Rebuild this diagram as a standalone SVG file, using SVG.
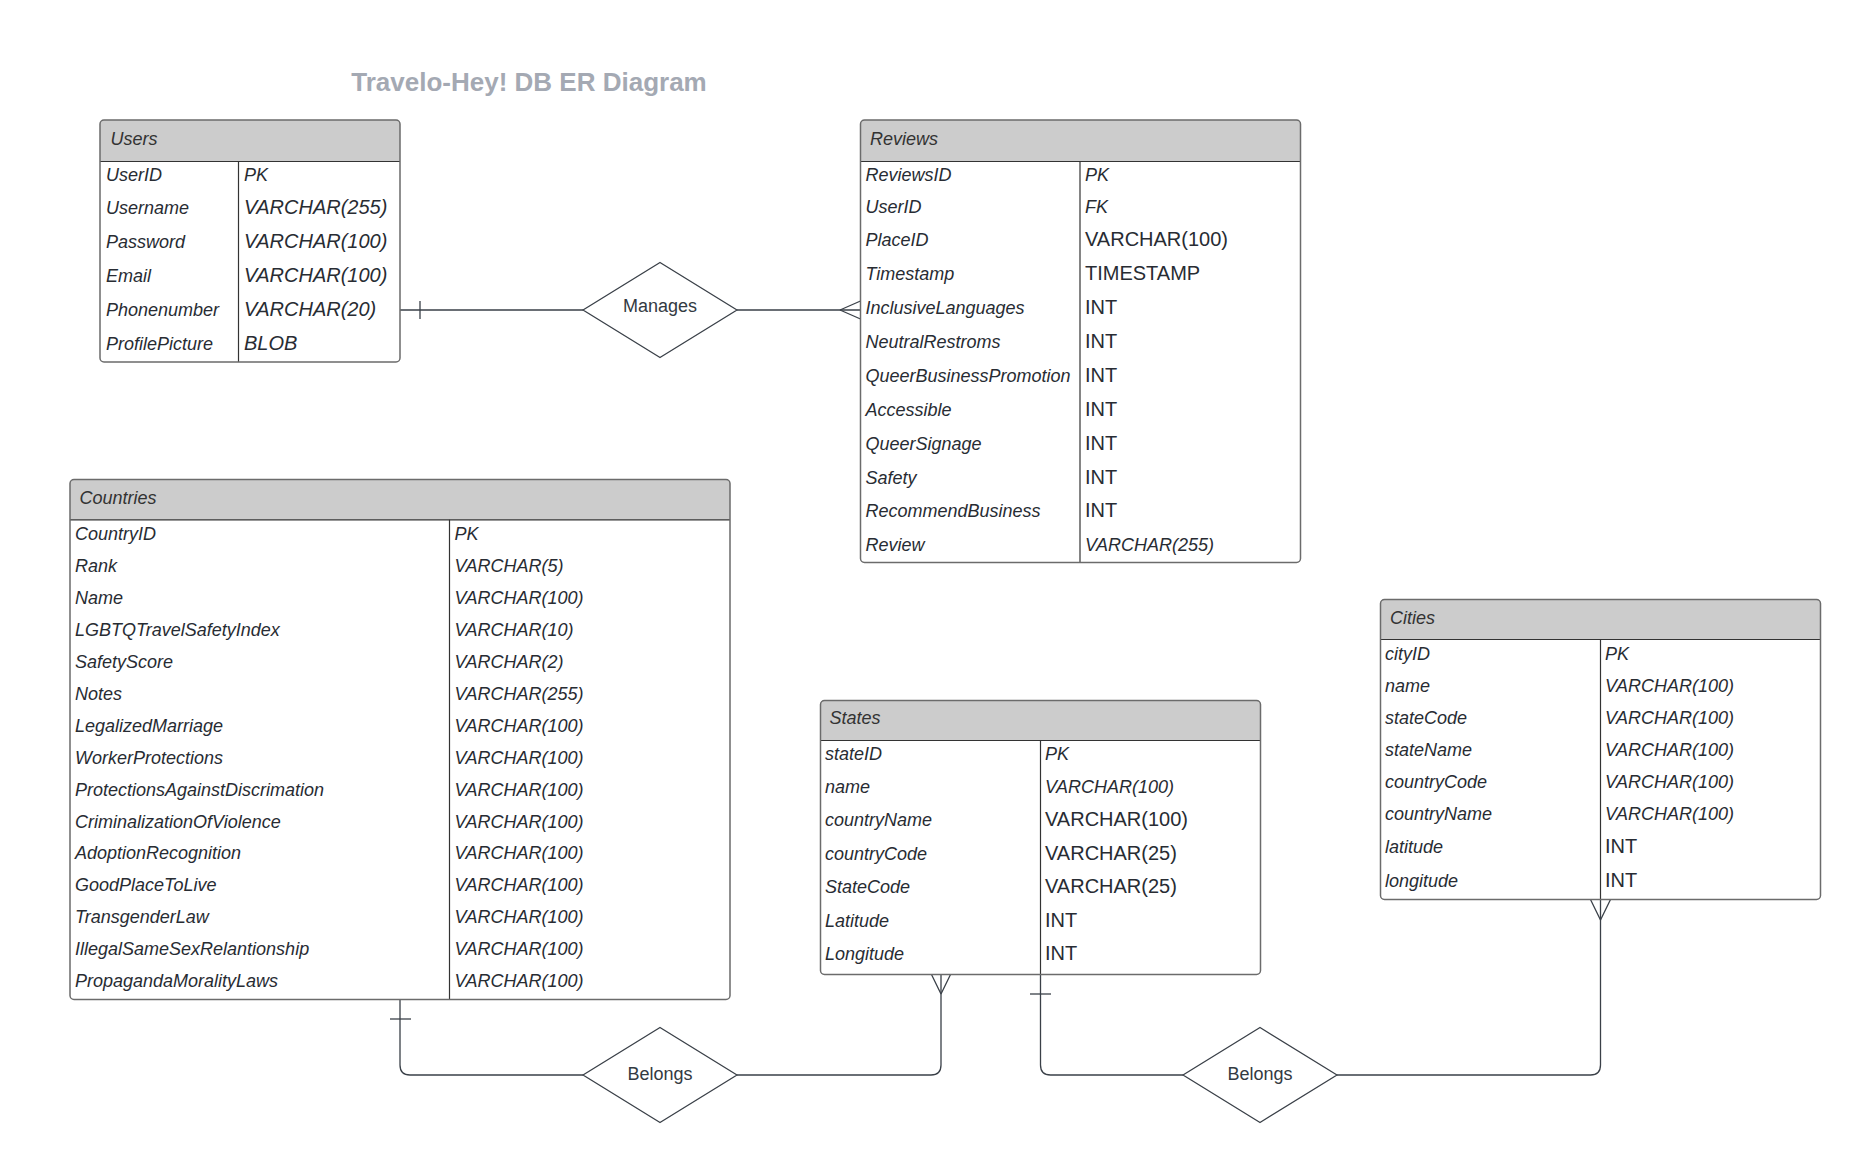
<svg xmlns="http://www.w3.org/2000/svg" width="1861" height="1166" viewBox="0 0 1861 1166">
<style>
  text { font-family: "Liberation Sans", Arial, sans-serif; fill: #282c33; }
  .title { font-size: 26px; font-weight: bold; fill: #a4a9b3; }
  .hd { font-size: 18px; font-style: italic; fill: #333333; }
  .nm { font-size: 18px; font-style: italic; }
  .ti { font-size: 18px; font-style: italic; }
  .tb { font-size: 20px; font-style: italic; }
  .tr { font-size: 20px; }
  .lbl { font-size: 18px; fill: #333a42; text-anchor: middle; }
  .box { fill: none; stroke: #6b6b6b; stroke-width: 1.5; }
  .bg { fill: #ffffff; }
  .hfill { fill: #cccccc; }
  .sep { stroke: #333333; stroke-width: 1.2; fill: none; }
  .conn { fill: none; stroke: #3a4048; stroke-width: 1.3; }
  .dia { fill: #ffffff; stroke: #3a4048; stroke-width: 1.3; stroke-linejoin: round; }
</style>
<rect width="1861" height="1166" fill="#ffffff"/>
<text class="title" x="529" y="91" text-anchor="middle">Travelo-Hey! DB ER Diagram</text>

<g id="connectors">
  <path class="conn" d="M400 310 H583 M737 310 H860.5"/>
  <path class="conn" d="M420 301 V319"/>
  <path class="conn" d="M840 310 L860.5 301 M840 310 L860.5 319"/>
  <path class="conn" d="M400 999.5 V1065 Q400 1075 410 1075 H583 M737 1075 H931 Q941 1075 941 1065 V974.5"/>
  <path class="conn" d="M390 1019 H411"/>
  <path class="conn" d="M941 994 L931.5 974.5 M941 994 L950.5 974.5"/>
  <path class="conn" d="M1040.5 974.5 V1065 Q1040.5 1075 1050.5 1075 H1183 M1337 1075 H1590.5 Q1600.5 1075 1600.5 1065 V899.5"/>
  <path class="conn" d="M1030 994 H1051"/>
  <path class="conn" d="M1600.5 920 L1590.5 899.5 M1600.5 920 L1610.5 899.5"/>
</g>

<g id="manages">
  <polygon class="dia" points="583,310 660,262.5 737,310 660,357.5"/>
  <text class="lbl" x="660" y="311.5">Manages</text>
</g>
<g id="belongs1">
  <polygon class="dia" points="583,1075 660,1027.5 737,1075 660,1122.5"/>
  <text class="lbl" x="660" y="1079.5">Belongs</text>
</g>
<g id="belongs2">
  <polygon class="dia" points="1183,1075 1260,1027.5 1337,1075 1260,1122.5"/>
  <text class="lbl" x="1260" y="1079.5">Belongs</text>
</g>

<g id="users">
  <rect class="bg" x="100" y="120" width="300" height="242" rx="4"/>
  <path class="hfill" d="M100 161.5 V124 A4 4 0 0 1 104 120 H396 A4 4 0 0 1 400 124 V161.5 Z"/>
  <line class="sep" x1="100" y1="161.5" x2="400" y2="161.5"/>
  <line class="sep" x1="238.5" y1="161.5" x2="238.5" y2="362"/>
  <rect class="box" x="100" y="120" width="300" height="242" rx="4"/>
  <text class="hd" x="110.5" y="145">Users</text>
  <text class="nm" x="106" y="181">UserID</text><text class="ti" x="244" y="181">PK</text>
  <text class="nm" x="106" y="214.4">Username</text><text class="tb" x="244" y="214.4">VARCHAR(255)</text>
  <text class="nm" x="106" y="247.8">Password</text><text class="tb" x="244" y="247.8">VARCHAR(100)</text>
  <text class="nm" x="106" y="282">Email</text><text class="tb" x="244" y="282">VARCHAR(100)</text>
  <text class="nm" x="106" y="315.5">Phonenumber</text><text class="tb" x="244" y="315.5">VARCHAR(20)</text>
  <text class="nm" x="106" y="350">ProfilePicture</text><text class="tb" x="244" y="350">BLOB</text>
</g>

<g id="reviews">
  <rect class="bg" x="860.5" y="120" width="440" height="442.5" rx="4"/>
  <path class="hfill" d="M860.5 161.5 V124 A4 4 0 0 1 864.5 120 H1296.5 A4 4 0 0 1 1300.5 124 V161.5 Z"/>
  <line class="sep" x1="860.5" y1="161.5" x2="1300.5" y2="161.5"/>
  <line class="sep" x1="1080" y1="161.5" x2="1080" y2="562.5"/>
  <rect class="box" x="860.5" y="120" width="440" height="442.5" rx="4"/>
  <text class="hd" x="870" y="145">Reviews</text>
  <text class="nm" x="865.5" y="181">ReviewsID</text><text class="ti" x="1085" y="181">PK</text>
  <text class="nm" x="865.5" y="213">UserID</text><text class="ti" x="1085" y="213">FK</text>
  <text class="nm" x="865.5" y="245.5">PlaceID</text><text class="tr" x="1085" y="245.5">VARCHAR(100)</text>
  <text class="nm" x="865.5" y="279.5">Timestamp</text><text class="tr" x="1085" y="279.5">TIMESTAMP</text>
  <text class="nm" x="865.5" y="314">InclusiveLanguages</text><text class="tr" x="1085" y="314">INT</text>
  <text class="nm" x="865.5" y="347.5">NeutralRestroms</text><text class="tr" x="1085" y="347.5">INT</text>
  <text class="nm" x="865.5" y="381.5">QueerBusinessPromotion</text><text class="tr" x="1085" y="381.5">INT</text>
  <text class="nm" x="865.5" y="416">Accessible</text><text class="tr" x="1085" y="416">INT</text>
  <text class="nm" x="865.5" y="449.5">QueerSignage</text><text class="tr" x="1085" y="449.5">INT</text>
  <text class="nm" x="865.5" y="483.5">Safety</text><text class="tr" x="1085" y="483.5">INT</text>
  <text class="nm" x="865.5" y="517">RecommendBusiness</text><text class="tr" x="1085" y="517">INT</text>
  <text class="nm" x="865.5" y="551">Review</text><text class="ti" x="1085" y="551">VARCHAR(255)</text>
</g>

<g id="countries">
  <rect class="bg" x="70" y="479.5" width="660" height="520" rx="4"/>
  <path class="hfill" d="M70 519.8 V483.5 A4 4 0 0 1 74 479.5 H726 A4 4 0 0 1 730 483.5 V519.8 Z"/>
  <line class="sep" x1="70" y1="519.8" x2="730" y2="519.8"/>
  <line class="sep" x1="449.5" y1="519.8" x2="449.5" y2="999.5"/>
  <rect class="box" x="70" y="479.5" width="660" height="520" rx="4"/>
  <text class="hd" x="79.5" y="504">Countries</text>
  <text class="nm" x="75" y="540.3">CountryID</text><text class="ti" x="454.5" y="540.3">PK</text>
  <text class="nm" x="75" y="572.3">Rank</text><text class="ti" x="454.5" y="572.3">VARCHAR(5)</text>
  <text class="nm" x="75" y="604.2">Name</text><text class="ti" x="454.5" y="604.2">VARCHAR(100)</text>
  <text class="nm" x="75" y="636.1">LGBTQTravelSafetyIndex</text><text class="ti" x="454.5" y="636.1">VARCHAR(10)</text>
  <text class="nm" x="75" y="668">SafetyScore</text><text class="ti" x="454.5" y="668">VARCHAR(2)</text>
  <text class="nm" x="75" y="699.9">Notes</text><text class="ti" x="454.5" y="699.9">VARCHAR(255)</text>
  <text class="nm" x="75" y="731.8">LegalizedMarriage</text><text class="ti" x="454.5" y="731.8">VARCHAR(100)</text>
  <text class="nm" x="75" y="763.7">WorkerProtections</text><text class="ti" x="454.5" y="763.7">VARCHAR(100)</text>
  <text class="nm" x="75" y="795.6">ProtectionsAgainstDiscrimation</text><text class="ti" x="454.5" y="795.6">VARCHAR(100)</text>
  <text class="nm" x="75" y="827.5">CriminalizationOfViolence</text><text class="ti" x="454.5" y="827.5">VARCHAR(100)</text>
  <text class="nm" x="75" y="859.4">AdoptionRecognition</text><text class="ti" x="454.5" y="859.4">VARCHAR(100)</text>
  <text class="nm" x="75" y="891.3">GoodPlaceToLive</text><text class="ti" x="454.5" y="891.3">VARCHAR(100)</text>
  <text class="nm" x="75" y="923.2">TransgenderLaw</text><text class="ti" x="454.5" y="923.2">VARCHAR(100)</text>
  <text class="nm" x="75" y="955.1">IllegalSameSexRelantionship</text><text class="ti" x="454.5" y="955.1">VARCHAR(100)</text>
  <text class="nm" x="75" y="987">PropagandaMoralityLaws</text><text class="ti" x="454.5" y="987">VARCHAR(100)</text>
</g>

<g id="states">
  <rect class="bg" x="820.5" y="700.5" width="440" height="274" rx="4"/>
  <path class="hfill" d="M820.5 740.5 V704.5 A4 4 0 0 1 824.5 700.5 H1256.5 A4 4 0 0 1 1260.5 704.5 V740.5 Z"/>
  <line class="sep" x1="820.5" y1="740.5" x2="1260.5" y2="740.5"/>
  <line class="sep" x1="1040.5" y1="740.5" x2="1040.5" y2="974.5"/>
  <rect class="box" x="820.5" y="700.5" width="440" height="274" rx="4"/>
  <text class="hd" x="829.5" y="723.5">States</text>
  <text class="nm" x="825" y="760">stateID</text><text class="ti" x="1045" y="760">PK</text>
  <text class="nm" x="825" y="792.5">name</text><text class="ti" x="1045" y="792.5">VARCHAR(100)</text>
  <text class="nm" x="825" y="825.5">countryName</text><text class="tr" x="1045" y="825.5">VARCHAR(100)</text>
  <text class="nm" x="825" y="859.5">countryCode</text><text class="tr" x="1045" y="859.5">VARCHAR(25)</text>
  <text class="nm" x="825" y="893">StateCode</text><text class="tr" x="1045" y="893">VARCHAR(25)</text>
  <text class="nm" x="825" y="927">Latitude</text><text class="tr" x="1045" y="927">INT</text>
  <text class="nm" x="825" y="960.3">Longitude</text><text class="tr" x="1045" y="960.3">INT</text>
</g>

<g id="cities">
  <rect class="bg" x="1380.5" y="599.5" width="440" height="300" rx="4"/>
  <path class="hfill" d="M1380.5 639.5 V603.5 A4 4 0 0 1 1384.5 599.5 H1816.5 A4 4 0 0 1 1820.5 603.5 V639.5 Z"/>
  <line class="sep" x1="1380.5" y1="639.5" x2="1820.5" y2="639.5"/>
  <line class="sep" x1="1600.5" y1="639.5" x2="1600.5" y2="899.5"/>
  <rect class="box" x="1380.5" y="599.5" width="440" height="300" rx="4"/>
  <text class="hd" x="1390" y="623.5">Cities</text>
  <text class="nm" x="1385" y="659.5">cityID</text><text class="ti" x="1605" y="659.5">PK</text>
  <text class="nm" x="1385" y="691.5">name</text><text class="ti" x="1605" y="691.5">VARCHAR(100)</text>
  <text class="nm" x="1385" y="723.5">stateCode</text><text class="ti" x="1605" y="723.5">VARCHAR(100)</text>
  <text class="nm" x="1385" y="755.5">stateName</text><text class="ti" x="1605" y="755.5">VARCHAR(100)</text>
  <text class="nm" x="1385" y="787.5">countryCode</text><text class="ti" x="1605" y="787.5">VARCHAR(100)</text>
  <text class="nm" x="1385" y="819.5">countryName</text><text class="ti" x="1605" y="819.5">VARCHAR(100)</text>
  <text class="nm" x="1385" y="853">latitude</text><text class="tr" x="1605" y="853">INT</text>
  <text class="nm" x="1385" y="886.5">longitude</text><text class="tr" x="1605" y="886.5">INT</text>
</g>
</svg>
